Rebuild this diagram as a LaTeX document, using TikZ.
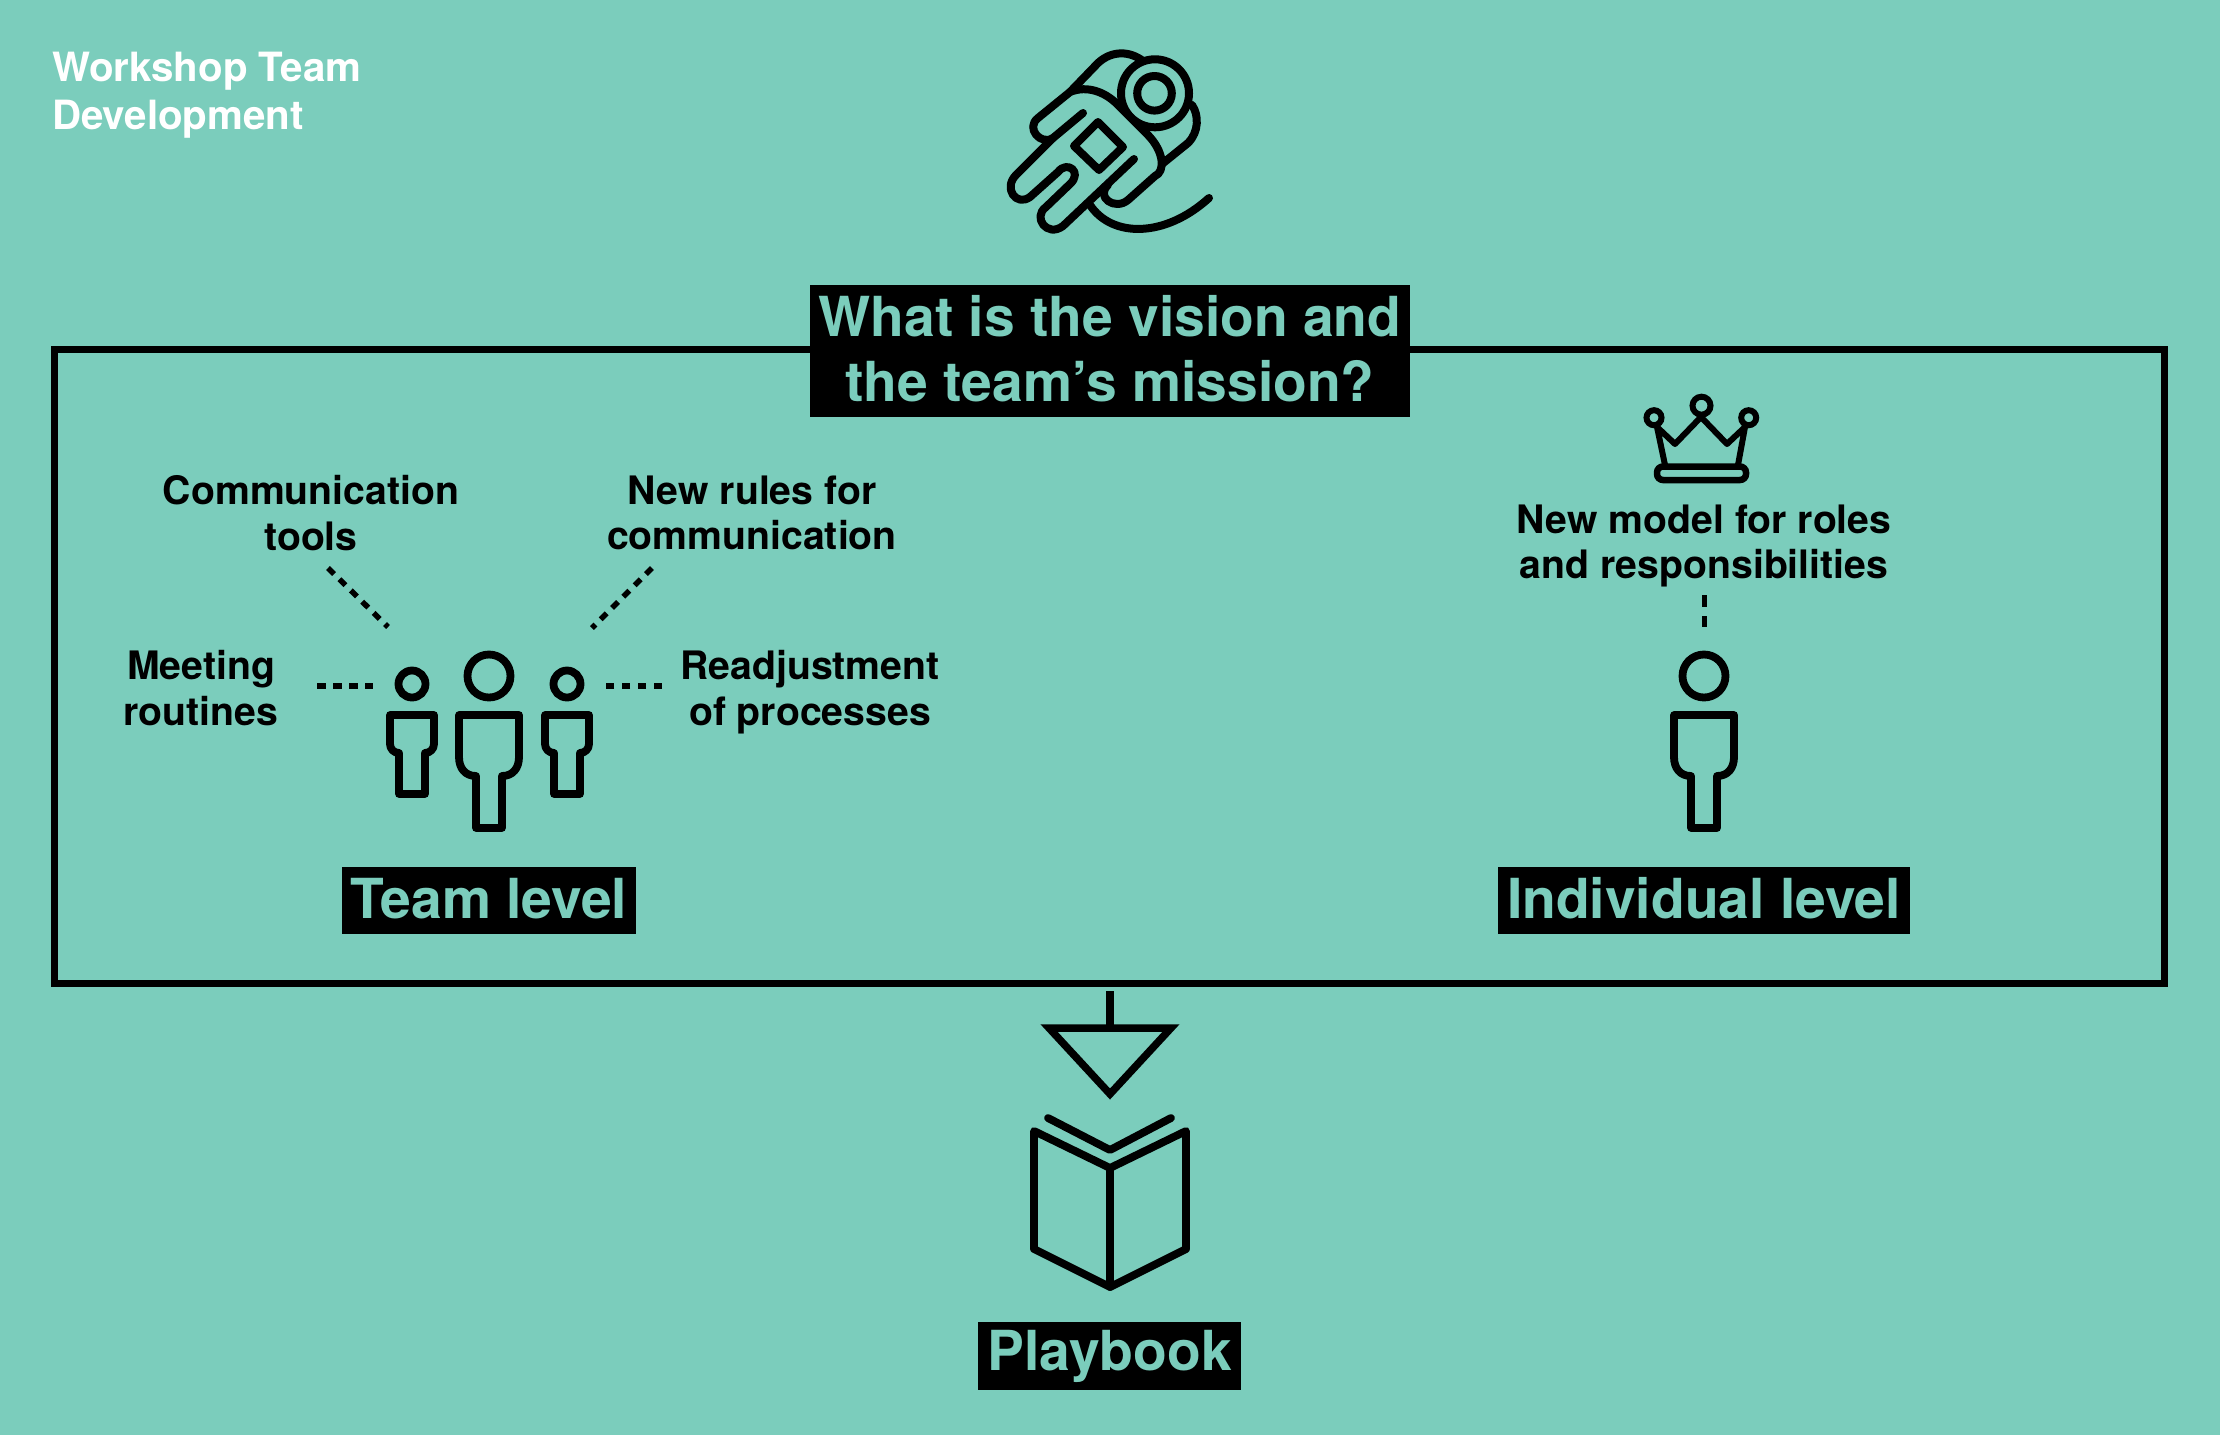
\documentclass[tikz,border=0pt]{standalone}
\usepackage{fontspec}
\setmainfont{TeX Gyre Heros}
\definecolor{tealbg}{HTML}{7BCDBC}
\tikzset{
  icon/.style={draw=black,line width=7.8pt,line join=round,line cap=round},
  astro/.style={draw=black,line width=8pt,line join=round,line cap=round},
  dashline/.style={draw=black,line width=5.5pt,dash pattern=on 8.5pt off 7.5pt},
  lab/.style={align=center,inner sep=0pt,font=\fontsize{39.2}{45.5}\selectfont\bfseries,text=black},
  headbox/.style={fill=black,text=tealbg,inner sep=0pt,align=center,font=\fontsize{55.2}{65}\selectfont\bfseries},
  person/.pic={
    \draw[icon] (0,-40) circle (21.5);
    \draw[icon] (-30,-1) -- (30,-1) -- (30,41) .. controls (30,52) and (24,60) .. (13,60) -- (13,112) -- (-13,112) -- (-13,60) .. controls (-24,60) and (-30,52) .. (-30,41) -- cycle;
  },
  smallperson/.pic={
    \draw[icon] (0,-31) circle (13.5);
    \draw[icon] (-22,0) -- (22,0) -- (22,29) .. controls (22,34) and (18,38) .. (13,38) -- (13,79) -- (-13,79) -- (-13,38) .. controls (-18,38) and (-22,34) .. (-22,29) -- cycle;
  }
}
\begin{document}
\begin{tikzpicture}[x=1pt,y=-1pt]
\useasboundingbox[fill=tealbg] (0,0) rectangle (2220,1435);

\node[anchor=north west,inner sep=0pt,align=left,text=white,font=\fontsize{40.3}{48}\selectfont\bfseries] (wtitle) at (52,52) {Workshop Team\\Development};

% frame
\node[draw=black,line width=7.5pt,minimum width=2110pt,minimum height=634pt,inner sep=0pt] (frame) at (1109.5,666.5) {};
\node[headbox,minimum width=600pt,minimum height=132pt] (question) at (1110,351) {\raisebox{6pt}{What is the vision and}\\\raisebox{6pt}{the team’s mission?}};

% astronaut
\draw[astro] (1155,93.3) circle (34);
\draw[astro] (1154.5,93.3) circle (17.3);
\draw[astro] (1070,92) -- (1098,63) .. controls (1112,50) and (1130,51) .. (1143,61);
\draw[astro] (1192,105) .. controls (1199,115) and (1199,132) .. (1188,143) -- (1162,164);
\draw[astro] (1083,113) -- (1053,138) .. controls (1041,146) and (1025,128) .. (1038,118) -- (1070,92) .. controls (1087,85) and (1105,92) .. (1117,104) -- (1147,134) .. controls (1165,152) and (1165,172) .. (1155,176) -- (1128,200) .. controls (1115,211) and (1095,197) .. (1108,185);
\draw[astro] (1134,159) -- (1063,226) .. controls (1047,238) and (1032,217) .. (1046,207) -- (1070,184) .. controls (1083,172) and (1067,160) .. (1058,172) -- (1030,197) .. controls (1016,207) and (1003,188) .. (1016,175) -- (1053,138);
\draw[astro] (1090,205) .. controls (1112,238) and (1165,238) .. (1209,198);
\draw[astro] (1098,122) -- (1123,147) -- (1099,170) -- (1074,146) -- cycle;

% team
\pic at (489,716) {person};
\pic at (412,715) {smallperson};
\pic at (567,715) {smallperson};
\pic at (1704,716) {person};
\coordinate (tmL) at (373,686);
\coordinate (tmR) at (605,686);
\coordinate (tmUL) at (388,627);
\coordinate (tmUR) at (592,628);
\coordinate (indU) at (1704,627);

\node[lab] (comm) at (311,513) {Communication\\tools};
\node[lab] (rules) at (752,513) {New rules for\\communication};
\node[lab] (meet) at (201,688) {Meeting\\routines};
\node[lab] (read) at (810,692) {Readjustment\\of processes};
\node[lab] (model) at (1704,546) {New model for roles\\and responsibilities};

\coordinate (commE) at (328,568);
\coordinate (rulesE) at (652,568);
\coordinate (meetE) at (317,686);
\coordinate (readE) at (662,686);
\coordinate (modelE) at (1704,595);
\draw[dashline] (commE) -- (tmUL);
\draw[dashline] (rulesE) -- (tmUR);
\draw[dashline] (meetE) -- (tmL);
\draw[dashline] (readE) -- (tmR);
\draw[dashline,line width=5pt,dash pattern=on 11.5pt off 9.5pt] (modelE) -- (indU);

\node[headbox,minimum width=294pt,minimum height=67pt] (team) at (489,900.5) {\raisebox{4.5pt}{Team level}};
\node[headbox,minimum width=412pt,minimum height=67pt] (indiv) at (1704,900.5) {\raisebox{4.5pt}{Individual level}};
\node[headbox,minimum width=263pt,minimum height=68pt] (play) at (1109.5,1356) {\raisebox{-5pt}{Playbook}};

% crown
\draw[draw=black,line width=6pt] (1701.5,405.7) circle (9);
\draw[draw=black,line width=6pt] (1654,417.7) circle (7.5);
\draw[draw=black,line width=6pt] (1748.7,417.7) circle (7.5);
\draw[draw=black,line width=6pt,line join=round,line cap=round] (1665,465) -- (1657,427) -- (1675,444) -- (1701,417) -- (1727,444) -- (1745,427) -- (1738,465);
\draw[draw=black,line width=6.5pt,rounded corners=6pt] (1657,466.5) rectangle (1746,480);

% arrow
\coordinate (arrowtop) at (1110,1028);
\draw[black,line width=7.5pt] (frame.south -| arrowtop) ++(0,4) -- (arrowtop);
\draw[draw=black,line width=7.5pt,miter limit=10] (1049,1028) -- (1171,1028) -- (1110,1094) -- cycle;

% book
\draw[icon] (1048,1118) -- (1110,1150) -- (1171,1118);
\draw[icon] (1034,1131) -- (1110,1168) -- (1186,1131) -- (1186,1249) -- (1110,1287) -- (1034,1249) -- cycle;
\draw[icon] (1110,1168) -- (1110,1287);
\end{tikzpicture}
\end{document}
